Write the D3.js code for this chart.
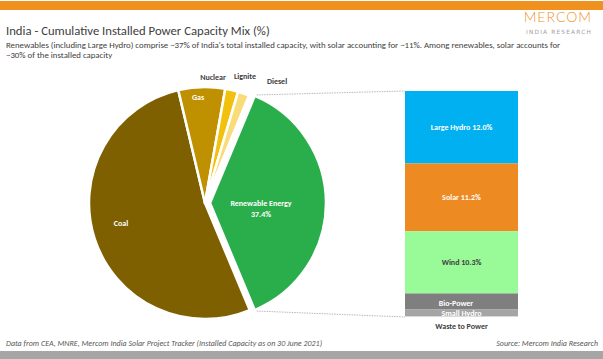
<!DOCTYPE html>
<html><head><meta charset="utf-8">
<script src="https://cdn.jsdelivr.net/npm/d3@7"></script>
<style>body{margin:0;background:#fff}svg{display:block;font-family:Calibri,Carlito,"Liberation Sans","Open Sans",sans-serif}</style>
</head><body>
<svg id="c" width="603" height="359"></svg>
<script>
const pieLabels = ["Renewable Energy","Coal","Gas","Nuclear","Lignite","Diesel"];
const pieValues = [37.4, 52.6, 6.5, 1.8, 1.6, 0.1];
const pieColors = ["#2AAD4B","#7F6000","#BF9000","#F2C10E","#F9DC7A","#FBE9B0"];
const barLabels = ["Large Hydro","Solar","Wind","Bio-Power","Small Hydro","Waste to Power"];
const barValues = [12.0, 11.2, 10.3, 2.6, 1.2, 0.1];
const barColors = ["#00B0F0","#EE8A22","#98FB98","#7F7F7F","#A5A5A5","#D9D9D9"];

const svg = d3.select("#c");
svg.append("rect").attr("x",0).attr("y",1).attr("width",603).attr("height",9).attr("fill","#F0901E");
svg.append("rect").attr("x",0).attr("y",351).attr("width",603).attr("height",8).attr("fill","#A6A6A6");

svg.append("text").attr("x",6).attr("y",35).attr("font-size",12.7).attr("fill","#404040")
  .text("India - Cumulative Installed Power Capacity Mix (%)");
svg.append("text").attr("x",6).attr("y",47.5).attr("font-size",8.8).attr("fill","#404040")
  .text("Renewables (including Large Hydro) comprise ~37% of India's total installed capacity, with solar accounting for ~11%. Among renewables, solar accounts for");
svg.append("text").attr("x",6).attr("y",58).attr("font-size",8.8).attr("fill","#404040")
  .text("~30% of the installed capacity");
svg.append("text").attr("x",592).attr("y",21.5).attr("text-anchor","end").attr("font-size",14).attr("font-weight",300)
  .attr("fill","#F0901E").attr("letter-spacing",1).attr("font-family","Lato, 'Open Sans', sans-serif").text("MERCOM");
svg.append("text").attr("x",592).attr("y",34).attr("text-anchor","end").attr("font-size",5.8).attr("letter-spacing",1.2)
  .attr("fill","#A0A0A0").attr("font-family","'DejaVu Sans', sans-serif").text("INDIA RESEARCH");

svg.append("text").attr("x",6).attr("y",346).attr("font-size",8).attr("font-style","italic").attr("fill","#595959")
  .text("Data from CEA, MNRE, Mercom India Solar Project Tracker  (Installed Capacity as on 30 June 2021)");
svg.append("text").attr("x",598).attr("y",346).attr("text-anchor","end").attr("font-size",8).attr("font-style","italic").attr("fill","#595959")
  .text("Source: Mercom India Research");

// Pie
const cx = 205, cy = 203, r = 116;
const total = d3.sum(pieValues);
const greenSpan = pieValues[0]/total*2*Math.PI;
const start = Math.PI/2 - greenSpan/2;
const pie = d3.pie().sort(null).startAngle(start).endAngle(start+2*Math.PI)(pieValues);
const arc = d3.arc().innerRadius(0).outerRadius(r);
const g = svg.append("g").attr("transform",`translate(${cx},${cy})`);
g.selectAll("path").data(pie).join("path")
  .attr("d",arc)
  .attr("fill",(d,i)=>pieColors[i])
  .attr("stroke","#fff").attr("stroke-width",2.5).attr("stroke-linejoin","round")
  .attr("transform",(d,i)=>{ if(i!==0) return null; const m=(d.startAngle+d.endAngle)/2; return `translate(${Math.sin(m)*5},${-Math.cos(m)*5})`;});

// Bar
const barX = 405, barW = 113, barTop = 91, barBottom = 317;
const y = d3.scaleLinear().domain([0, d3.sum(barValues)]).range([barTop, barBottom]);
let acc = 0;
const segs = barValues.map((v,i)=>{const s={i,v,y0:acc,y1:acc+v}; acc+=v; return s;});
svg.append("g").selectAll("rect").data(segs).join("rect")
  .attr("x",barX).attr("width",barW)
  .attr("y",d=>y(d.y0)).attr("height",d=>y(d.y1)-y(d.y0))
  .attr("fill",d=>barColors[d.i]);

// connector lines
const gp = pie[0];
const mid = (gp.startAngle+gp.endAngle)/2;
const p1 = [cx+Math.sin(gp.startAngle)*r+5*Math.sin(mid), cy-Math.cos(gp.startAngle)*r];
const p2 = [cx+Math.sin(gp.endAngle)*r+5*Math.sin(mid), cy-Math.cos(gp.endAngle)*r];
svg.append("line").attr("x1",p1[0]+2).attr("y1",p1[1]-1).attr("x2",barX).attr("y2",y(0))
  .attr("stroke","#A6A6A6").attr("stroke-width",0.8).attr("stroke-dasharray","1.5,1");
svg.append("line").attr("x1",p2[0]+2).attr("y1",p2[1]+1).attr("x2",barX).attr("y2",y(d3.sum(barValues)))
  .attr("stroke","#A6A6A6").attr("stroke-width",0.8).attr("stroke-dasharray","1.5,1");

// pie labels
const lab = (x,yy,t,c)=>svg.append("text").attr("x",x).attr("y",yy).attr("text-anchor","middle")
  .attr("font-size",8).attr("font-weight","bold").attr("fill",c).text(t);
lab(121,226,pieLabels[1],"#fff");
lab(198,100,pieLabels[2],"#fff");
lab(261,206,pieLabels[0],"#fff");
lab(261,217,pieValues[0].toFixed(1)+"%","#fff");
lab(213,80,pieLabels[3],"#404040");
lab(245,79,pieLabels[4],"#404040");
lab(277,84,pieLabels[5],"#404040");

// bar labels
const bx = barX + barW/2;
[0,1,2].forEach(i=>{
  lab(bx, (y(segs[i].y0)+y(segs[i].y1))/2+3, barLabels[i]+" "+barValues[i].toFixed(1)+"%", i===2?"#404040":"#fff");
});
lab(456, 306, barLabels[3], "#fff");
lab(bx, 316, barLabels[4], "#fff");
lab(bx, 329, barLabels[5], "#404040");
</script>
</body></html>
